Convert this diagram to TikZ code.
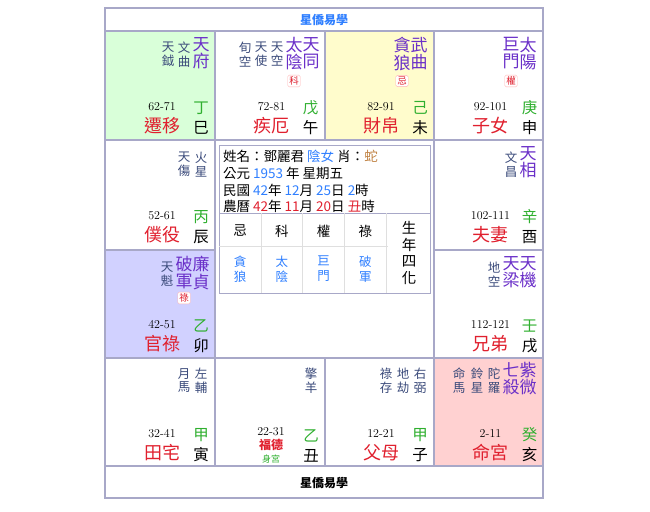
\documentclass[tikz,border=0pt]{standalone}
\usepackage{fontspec}
\newfontfamily\cjk{Noto Sans CJK TC}
\usetikzlibrary{positioning}
\definecolor{gridc}{HTML}{A8A8C8}
\definecolor{mainc}{HTML}{6A2FC8}
\definecolor{minorc}{HTML}{3A4A7A}
\definecolor{namec}{HTML}{E0202E}
\definecolor{stemc}{HTML}{2FAF2F}
\definecolor{bluec}{HTML}{2F7FFF}
\tikzset{
  mainstar/.style={anchor=north,font=\cjk\fontsize{17}{17.5}\selectfont,text=mainc,inner sep=0pt,align=center},
  minorstar/.style={anchor=north,font=\cjk\fontsize{12.5}{13.5}\selectfont,text=minorc,inner sep=0pt,align=center},
  tagbox/.style={draw=red!30,rounded corners=1.5pt,fill=white,text=namec,font=\cjk\fontsize{9.5}{9.5}\selectfont,inner sep=1.5pt},
  agetxt/.style={font=\fontsize{12}{12}\selectfont,inner sep=0pt},
  palname/.style={font=\cjk\fontsize{18}{18}\selectfont,text=namec,inner sep=0pt},
  stemtxt/.style={font=\cjk\fontsize{15.5}{15.5}\selectfont,text=stemc,inner sep=0pt},
  brtxt/.style={font=\cjk\fontsize{15.5}{15.5}\selectfont,inner sep=0pt},
  info/.style={anchor=west,font=\cjk\fontsize{13.5}{13.5}\selectfont,inner sep=0pt},
}
\begin{document}
\begin{tikzpicture}[x=1pt,y=-1pt]
\useasboundingbox (0,0) rectangle (650,511);
% highlighted palaces
\fill[green!15] (105,31) rectangle (215,140);
\fill[yellow!20] (325,31) rectangle (434,140);
\fill[blue!18] (105,250) rectangle (215,358);
\fill[red!18] (434,358) rectangle (543,466);
% frame and grid
\draw[gridc,line width=1.2pt] (105,8) rectangle (543,498);
\draw[gridc,line width=1.2pt] (105,31) -- (543,31);
\draw[gridc,line width=1.2pt] (105,466) -- (543,466);
\draw[gridc,line width=1.2pt] (105,140) -- (215,140) (434,140) -- (543,140);
\draw[gridc,line width=1.2pt] (105,250) -- (215,250) (434,250) -- (543,250);
\draw[gridc,line width=1.2pt] (105,358) -- (543,358) (215,140) -- (434,140);
\draw[gridc,line width=1.2pt] (215,31) -- (215,466) (325,31) -- (325,140) (325,358) -- (325,466) (434,31) -- (434,466);
\node[font=\cjk\bfseries\fontsize{12}{12}\selectfont,text=bluec] (title) at (324,20) {星僑易學};
\node[font=\cjk\bfseries\fontsize{12}{12}\selectfont] (foot) at (324,483) {星僑易學};
% palaces: col/row/age/name/stem/branch
\foreach \c/\r/\age/\pname/\stem/\br in {0/0/62-71/遷移/丁/巳, 1/0/72-81/疾厄/戊/午, 2/0/82-91/財帛/己/未, 3/0/92-101/子女/庚/申,
  0/1/52-61/僕役/丙/辰, 3/1/102-111/夫妻/辛/酉, 0/2/42-51/官祿/乙/卯, 3/2/112-121/兄弟/壬/戌,
  0/3/32-41/田宅/甲/寅, 2/3/12-21/父母/甲/子, 3/3/2-11/命宮/癸/亥}{
  \pgfmathsetmacro\X{105+109.5*\c}
  \pgfmathsetmacro\Y{31+109*\r}
  \node[agetxt] (age\c\r) at (\X+57,\Y+76) {\age};
  \node[palname] (pal\c\r) at (\X+57,\Y+95) {\pname};
  \node[stemtxt] (stem\c\r) at (\X+96,\Y+77) {\stem};
  \node[brtxt] (br\c\r) at (\X+96,\Y+97) {\br};
}
% 丑 palace
\node[agetxt] (age13) at (271,432) {22-31};
\node[font=\cjk\bfseries\fontsize{12}{12}\selectfont,text=namec] (fude) at (271,445) {福德};
\node[font=\cjk\fontsize{9}{9}\selectfont,text=stemc] (shen) at (271,459) {身宮};
\node[stemtxt] (stem13) at (311,436) {乙};
\node[brtxt] (br13) at (311,456) {丑};
% stars 巳
\node[mainstar] (s1) at (201,37) {天\\府};
\node[minorstar] (s2) at (184,42) {文\\曲};
\node[minorstar] (s3) at (168,42) {天\\鉞};
% stars 午
\node[mainstar] (s4) at (311,37) {天\\同};
\node[mainstar] (s5) at (294,37) {太\\陰};
\node[tagbox] (t5) at (294,81) {科};
\node[minorstar] (s6) at (277,42) {天\\空};
\node[minorstar] (s7) at (261,42) {天\\使};
\node[minorstar] (s8) at (245,42) {旬\\空};
% stars 未
\node[mainstar] (s9) at (419,37) {武\\曲};
\node[mainstar] (s10) at (402,37) {貪\\狼};
\node[tagbox] (t10) at (402,81) {忌};
% stars 申
\node[mainstar] (s11) at (528,37) {太\\陽};
\node[mainstar] (s12) at (511,37) {巨\\門};
\node[tagbox] (t12) at (511,81) {權};
% stars 辰
\node[minorstar] (s13) at (201,152) {火\\星};
\node[minorstar] (s14) at (184,152) {天\\傷};
% stars 酉
\node[mainstar] (s15) at (528,146) {天\\相};
\node[minorstar] (s16) at (511,152) {文\\昌};
% stars 卯
\node[mainstar] (s17) at (201,256) {廉\\貞};
\node[mainstar] (s18) at (184,256) {破\\軍};
\node[tagbox] (t18) at (184,298) {祿};
\node[minorstar] (s19) at (167,262) {天\\魁};
% stars 戌
\node[mainstar] (s20) at (528,256) {天\\機};
\node[mainstar] (s21) at (511,256) {天\\梁};
\node[minorstar] (s22) at (494,262) {地\\空};
% stars 寅
\node[minorstar] (s23) at (201,368) {左\\輔};
\node[minorstar] (s24) at (184,368) {月\\馬};
% stars 丑
\node[minorstar] (s25) at (311,368) {擎\\羊};
% stars 子
\node[minorstar] (s26) at (420,368) {右\\弼};
\node[minorstar] (s27) at (403,368) {地\\劫};
\node[minorstar] (s28) at (386,368) {祿\\存};
% stars 亥
\node[mainstar] (s29) at (528,362) {紫\\微};
\node[mainstar] (s30) at (511,362) {七\\殺};
\node[minorstar] (s31) at (494,368) {陀\\羅};
\node[minorstar] (s32) at (477,368) {鈴\\星};
\node[minorstar] (s33) at (459,368) {命\\馬};
% centre info
\draw[gridc,line width=0.8pt] (219,145) rectangle (430,293);
\draw[gridc,line width=0.8pt] (219,213) -- (430,213);
\draw[gray!25] (219,246) -- (388,246);
\foreach \i in {1,...,4}{\draw[gray!25] (219+41.8*\i,213) -- (219+41.8*\i,293);}
\node[info] (l1) at (223,156) {姓名：鄧麗君 \textcolor{bluec}{陰女} 肖：\textcolor{brown}{蛇}};
\node[info] (l2) at (223,173) {公元 \textcolor{bluec}{1953} 年 星期五};
\node[info] (l3) at (223,190) {民國 \textcolor{bluec}{42}年 \textcolor{bluec}{12}月 \textcolor{bluec}{25}日 \textcolor{bluec}{2}時};
\node[info] (l4) at (223,206) {農曆 \textcolor{namec}{42}年 \textcolor{namec}{11}月 \textcolor{namec}{20}日 \textcolor{namec}{丑}時};
\foreach \k/\h/\v in {0/忌/貪\\狼, 1/科/太\\陰, 2/權/巨\\門, 3/祿/破\\軍}{
  \node[font=\cjk\fontsize{13.5}{13.5}\selectfont] (h\k) at (240+41.8*\k,231) {\h};
  \node[font=\cjk\fontsize{12.5}{15}\selectfont,text=bluec,align=center] (v\k) at (240+41.8*\k,269) {\v};
}
\node[font=\cjk\fontsize{14.5}{16.5}\selectfont,align=center] (sihua) at (409,253) {生\\年\\四\\化};
\end{tikzpicture}
\end{document}
